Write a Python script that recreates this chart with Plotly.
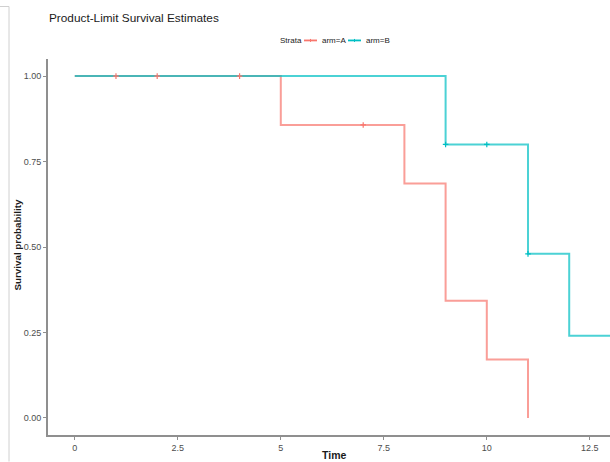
import plotly.graph_objects as go

# ---- data ----
a_times = [0, 5, 8, 9, 10, 11]
a_surv = [1.0, 0.857, 0.686, 0.343, 0.171, 0.0]
a_cens_t = [1, 2, 4, 7]
a_cens_s = [1.0, 1.0, 1.0, 0.857]

b_times = [0, 9, 11, 12, 13]
b_surv = [1.0, 0.8, 0.48, 0.24, 0.24]
b_cens_t = [9, 10, 11]
b_cens_s = [0.8, 0.8, 0.48]

x_ticks = [0, 2.5, 5, 7.5, 10, 12.5]
x_ticklabels = ["0", "2.5", "5", "7.5", "10", "12.5"]
y_ticks = [0, 0.25, 0.5, 0.75, 1.0]
y_ticklabels = ["0.00", "0.25", "0.50", "0.75", "1.00"]

RED = "#F8766D"
CYAN = "#00BFC4"

W, H = 610, 462
L, R, T, B = 48, 610, 58.6, 435.4


def px(x):
    return (x - L) / (R - L)


def py(y):
    return (B - y) / (B - T)


fig = go.Figure()
fig.add_trace(go.Scatter(x=a_times, y=a_surv, mode="lines", line=dict(color=RED, width=2, shape="hv"),
                         opacity=0.7, showlegend=False, hoverinfo="skip"))
fig.add_trace(go.Scatter(x=b_times, y=b_surv, mode="lines", line=dict(color=CYAN, width=2, shape="hv"),
                         opacity=0.7, showlegend=False, hoverinfo="skip"))
fig.add_trace(go.Scatter(x=a_cens_t, y=a_cens_s, mode="markers",
                         marker=dict(symbol="cross-thin", size=4, line=dict(color=RED, width=1.2)),
                         showlegend=False, hoverinfo="skip"))
fig.add_trace(go.Scatter(x=b_cens_t, y=b_cens_s, mode="markers",
                         marker=dict(symbol="cross-thin", size=4, line=dict(color=CYAN, width=1.2)),
                         showlegend=False, hoverinfo="skip"))

FONT = "Liberation Sans, Arial, sans-serif"
axis_common = dict(showgrid=False, zeroline=False, showline=True, linecolor="#8f8f8f", linewidth=1.6,
                   ticks="outside", ticklen=3, tickwidth=1, tickcolor="#8f8f8f",
                   tickfont=dict(family=FONT, size=9, color="#4d4d4d"), automargin=False)

fig.update_xaxes(range=[-0.65, 12.99], tickvals=x_ticks, ticktext=x_ticklabels, **axis_common)
fig.update_yaxes(range=[-0.05, 1.05], tickvals=y_ticks, ticktext=y_ticklabels, **axis_common)

shapes = []
# legend line samples
for x0, x1, col in [(304, 317, RED), (348, 361, CYAN)]:
    shapes.append(dict(type="line", xref="paper", yref="paper", x0=px(x0), x1=px(x1), y0=py(40), y1=py(40),
                       line=dict(color=col, width=1.8)))
    xm = (x0 + x1) / 2
    shapes.append(dict(type="line", xref="paper", yref="paper", x0=px(xm), x1=px(xm), y0=py(38.5), y1=py(41.5),
                       line=dict(color=col, width=1)))
# screenshot frame border at left
shapes.append(dict(type="line", xref="paper", yref="paper", x0=px(9), x1=px(9), y0=py(6), y1=py(462),
                   line=dict(color="#d0d0d0", width=1)))
shapes.append(dict(type="line", xref="paper", yref="paper", x0=px(0), x1=px(9), y0=py(6), y1=py(6),
                   line=dict(color="#d0d0d0", width=1)))

annotations = [
    dict(text="Strata", xref="paper", yref="paper", x=px(278), y=py(40), xanchor="left", yanchor="middle",
         showarrow=False, font=dict(family=FONT, size=8, color="#1a1a1a")),
    dict(text="arm=A", xref="paper", yref="paper", x=px(320), y=py(40), xanchor="left", yanchor="middle",
         showarrow=False, font=dict(family=FONT, size=8, color="#1a1a1a")),
    dict(text="arm=B", xref="paper", yref="paper", x=px(364), y=py(40), xanchor="left", yanchor="middle",
         showarrow=False, font=dict(family=FONT, size=8, color="#1a1a1a")),
    dict(text="<b>Time</b>", xref="paper", yref="paper", x=px(333.5), y=py(455), xanchor="center",
         yanchor="middle", showarrow=False, font=dict(family=FONT, size=10.5, color="#1a1a1a")),
    dict(text="<b>Survival probability</b>", xref="paper", yref="paper", x=px(17.5), y=py(245),
         xanchor="center", yanchor="middle", textangle=-90, showarrow=False,
         font=dict(family=FONT, size=9.8, color="#1a1a1a")),
]

fig.update_layout(
    width=W, height=H,
    margin=dict(l=L, r=W - R, t=T, b=H - B, pad=0),
    paper_bgcolor="white", plot_bgcolor="white",
    title=dict(text="Product-Limit Survival Estimates", x=49 / W, xanchor="left", y=1 - 18 / H,
               yanchor="middle", font=dict(family=FONT, size=11.8, color="#1a1a1a")),
    shapes=shapes, annotations=annotations, showlegend=False,
)

fig.write_html("out.html", config={"displayModeBar": False},
               post_script="document.body.style.margin='0';document.body.style.overflow='hidden';")
